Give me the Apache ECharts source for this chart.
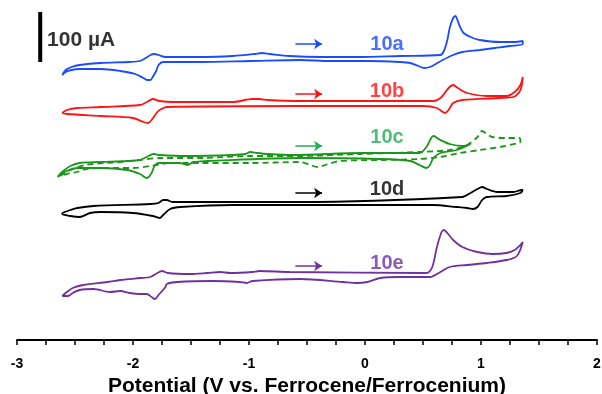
<!DOCTYPE html>
<html>
<head>
    <meta charset="utf-8">
    <title>CV 10a-10e</title>
    <script src="https://cdn.jsdelivr.net/npm/echarts@6/dist/echarts.min.js"></script>
    <style>
        html, body { margin: 0; padding: 0; background: #fff; }
        #main { width: 602px; height: 394px; }
    </style>
</head>
<body>
<div id="main"></div>
<script>
// potential (V vs Fc/Fc+) , current in uA incl. stacking offset (closed loops)
var cv10a = [
    [-2.61,530],[-2.58,540],[-2.53,546],[-2.46,550],[-2.28,554],[-2.03,556],[-1.94,558],[-1.89,564],[-1.85,570],[-1.82,572],
    [-1.78,570],[-1.72,566],[-1.42,566],[-1.14,568],[-0.95,572],[-0.89,574],[-0.82,572],[-0.65,568],[-0.39,566],[-0.04,566],
    [0.30,568],[0.65,570],[0.68,578],[0.71,600],[0.73,624],[0.76,644],[0.78,648],[0.79,644],[0.82,626],[0.85,614],
    [0.91,606],[0.99,600],[1.16,596],[1.29,596],[1.36,598],
    [1.36,592],[1.25,588],[1.12,584],[0.99,580],[0.84,576],[0.76,570],[0.67,560],[0.61,552],[0.56,546],[0.51,544],
    [0.46,548],[0.39,554],[0.30,556],[0.04,558],[-0.30,558],[-0.56,560],[-0.99,558],[-1.42,556],[-1.68,556],[-1.74,556],
    [-1.78,550],[-1.80,538],[-1.83,526],[-1.85,520],[-1.88,520],[-1.91,524],[-1.98,532],[-2.11,538],[-2.28,542],[-2.46,542],
    [-2.53,540],[-2.58,536],[-2.61,530]
];
var cv10b = [
    [-2.61,454],[-2.57,460],[-2.48,464],[-2.28,466],[-1.94,470],[-1.88,476],[-1.83,482],[-1.77,478],[-1.66,476],[-1.14,476],
    [-0.97,482],[-0.91,482],[-0.84,480],[-0.56,478],[0.59,478],[0.66,486],[0.72,504],[0.76,510],[0.80,504],[0.88,494],
    [1.05,488],[1.22,488],[1.29,496],[1.34,510],[1.36,526],
    [1.34,500],[1.28,486],[1.16,484],[0.84,480],[0.76,474],[0.72,460],[0.69,454],[0.62,464],[0.50,468],[-0.56,468],
    [-1.71,466],[-1.77,460],[-1.79,456],[-1.84,440],[-1.87,434],[-1.91,436],[-2.00,444],[-2.28,448],[-2.57,452],[-2.61,454]
];
var cv10c = [
    [-2.65,326],[-2.62,334],[-2.59,340],[-2.54,348],[-2.46,354],[-2.28,356],[-2.05,358],[-1.94,360],[-1.90,364],[-1.85,370],
    [-1.82,372],[-1.77,370],[-1.53,368],[-1.14,370],[-1.03,372],[-0.99,376],[-0.93,374],[-0.84,372],[-0.62,370],[-0.02,374],
    [0.47,374],[0.53,386],[0.59,408],[0.65,400],[0.73,392],[0.84,388],[0.91,392],
    [0.79,380],[0.65,374],[0.59,364],[0.56,350],[0.53,344],[0.47,350],[0.39,358],[0.13,362],[-0.56,364],
    [-1.36,358],[-1.48,356],[-1.53,350],[-1.60,354],[-1.77,354],[-1.81,350],[-1.84,334],[-1.88,324],[-1.94,332],[-2.05,340],
    [-2.28,344],[-2.48,344],[-2.57,338],[-2.65,326]
];
var cv10cDash = [
    [-2.63,328],[-2.54,340],[-2.41,350],[-2.11,356],[-1.94,360],[-1.77,364],[-1.42,364],[-0.99,368],[-0.56,368],[-0.04,372],
    [0.47,376],[0.73,380],[0.88,390],[0.97,406],[1.01,418],[1.05,412],[1.10,406],[1.22,404],[1.33,404],[1.34,396],
    [1.32,394],[1.16,386],[0.99,380],[0.82,374],[0.65,366],[0.47,362],[0.13,360],[-0.22,358],[-0.34,350],[-0.41,346],
    [-0.47,350],[-0.56,356],[-0.99,354],[-1.42,354],[-1.68,354],[-1.85,348],[-2.00,344],[-2.28,344],[-2.40,342],[-2.48,336],
    [-2.54,334],[-2.63,328]
];
var cv10d = [
    [-2.61,254],[-2.54,260],[-2.48,264],[-2.34,268],[-1.85,272],[-1.78,274],[-1.74,280],[-1.71,280],[-1.66,276],[-1.28,276],
    [-0.56,276],[0.84,286],[0.91,294],[0.97,302],[1.01,306],[1.05,302],[1.14,296],[1.28,296],[1.35,300],[1.36,300],
    [1.34,294],[1.22,288],[1.05,286],[1.01,280],[0.97,266],[0.93,262],[0.88,264],[0.79,266],[0.59,270],[-0.56,270],
    [-1.14,270],[-1.59,266],[-1.68,262],[-1.74,250],[-1.77,244],[-1.83,248],[-2.00,254],[-2.28,256],[-2.37,254],[-2.46,246],
    [-2.54,248],[-2.61,252],[-2.61,254]
];
var cv10e = [
    [-2.61,88],[-2.57,96],[-2.52,104],[-2.43,110],[-2.22,116],[-2.11,120],[-1.94,124],[-1.85,126],[-1.79,134],[-1.75,138],
    [-1.70,134],[-1.51,132],[-1.36,134],[-1.25,136],[-1.16,134],[-0.97,136],[-0.91,138],[-0.65,136],[0.53,134],[0.58,146],
    [0.62,186],[0.66,216],[0.68,220],[0.71,214],[0.76,200],[0.84,186],[0.97,176],[1.10,172],[1.22,174],[1.29,180],
    [1.34,190],[1.36,196],
    [1.31,168],[1.22,160],[1.05,154],[0.88,150],[0.73,146],[0.65,136],[0.56,126],[0.30,126],[0.13,124],[0.02,116],
    [-0.07,114],[-0.19,116],[-0.56,122],[-0.97,118],[-1.02,114],[-1.08,116],[-1.31,118],[-1.62,116],[-1.71,112],[-1.72,106],
    [-1.78,90],[-1.81,82],[-1.84,86],[-1.88,92],[-1.94,92],[-2.03,94],[-2.11,98],[-2.20,96],[-2.34,102],[-2.46,100],
    [-2.52,94],[-2.56,88],[-2.61,88]
];

var names = ['10a', '10b', '10c', '10d', '10e'];
var colors = ['#1a4bff', '#ff1414', '#1a961a', '#000000', '#7030a0'];
var labelColors = ['#1a4bff', '#ff1414', '#1fae52', '#000000', '#7030a0'];
var labelPos = [[0.19, 592], [0.19, 498], [0.19, 405], [0.19, 302], [0.19, 154]];
var arrowY = [592, 492, 388, 294, 148];
var arrowX = [-0.60, -0.37];
var scaleBar = [[-2.80, 556], [-2.80, 656]];
var scaleText = '100 µA';
var xTicks = { min: -3, max: 2, step: 1 };

var curves = [cv10a, cv10b, cv10c, cv10d, cv10e];

var chart = echarts.init(document.getElementById('main'));

var series = [];
curves.forEach(function (d, i) {
    series.push({
        name: names[i],
        type: 'line',
        data: d,
        showSymbol: false,
        smooth: 0.3,
        lineStyle: { color: colors[i], width: 1.8 },
        markLine: {
            silent: true,
            symbol: ['none', 'arrow'],
            symbolSize: 8,
            label: { show: false },
            lineStyle: { color: labelColors[i], width: 1.5, type: 'solid' },
            data: [[{ coord: [arrowX[0], arrowY[i]] }, { coord: [arrowX[1], arrowY[i]] }]]
        }
    });
});
series.push({
    name: '10c dashed',
    type: 'line',
    data: cv10cDash,
    showSymbol: false,
    smooth: 0.3,
    lineStyle: { color: colors[2], width: 1.8, type: [6, 4] }
});
series.push({
    name: 'scale',
    type: 'line',
    data: scaleBar,
    showSymbol: false,
    lineStyle: { color: '#000', width: 4 }
});
series.push({
    name: 'labels',
    type: 'scatter',
    symbolSize: 0,
    data: names.map(function (n, i) {
        return {
            value: labelPos[i], name: n,
            label: { color: labelColors[i] }
        };
    }).concat([{
        value: [-2.741, 600], name: scaleText,
        label: { color: '#000', position: 'right', distance: 0, fontSize: 21 }
    }]),
    label: {
        show: true,
        position: 'inside',
        formatter: '{b}',
        fontFamily: 'Liberation Sans, Arial',
        fontWeight: 'bold',
        fontSize: 20
    }
});

var option = {
    animation: false,
    grid: { left: 17, right: 5, top: 0, bottom: 54, outerBoundsMode: 'none' },
    xAxis: {
        type: 'value',
        min: xTicks.min,
        max: xTicks.max,
        interval: xTicks.step,
        name: 'Potential (V vs. Ferrocene/Ferrocenium)',
        nameLocation: 'middle',
        nameGap: 30,
        nameTextStyle: { fontFamily: 'Liberation Sans, Arial', fontWeight: 'bold', fontSize: 21, color: '#000' },
        axisLine: { onZero: false, lineStyle: { color: '#000', width: 2 } },
        axisTick: { show: true, inside: false, length: 5, lineStyle: { color: '#000', width: 1.5 } },
        minorTick: { show: true, splitNumber: 4, length: 5, lineStyle: { color: '#000', width: 1.5 } },
        axisLabel: { margin: 17, fontFamily: 'Liberation Sans, Arial', fontWeight: 'bold', fontSize: 14, color: '#000' },
        splitLine: { show: false }
    },
    yAxis: {
        type: 'value',
        min: 0,
        max: 680,
        show: false
    },
    series: series
};
chart.setOption(option);
</script>
</body>
</html>
